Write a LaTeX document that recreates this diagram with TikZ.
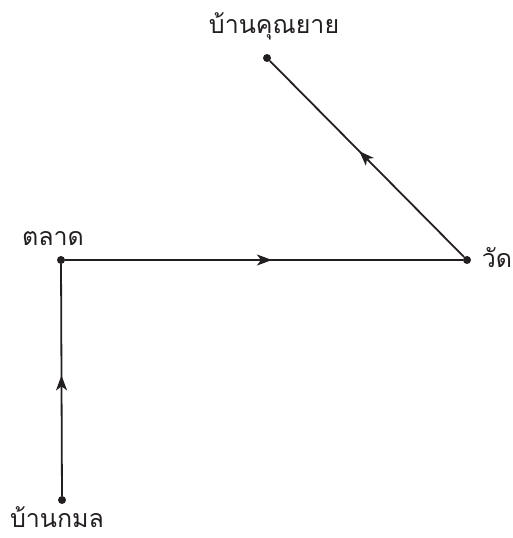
\documentclass[tikz,border=0pt]{standalone}
\usepackage{fontspec}
\newfontfamily\thaifont[Script=Thai]{Loma}
\usetikzlibrary{arrows.meta,decorations.markings}
\definecolor{ink}{HTML}{231F20}
\tikzset{
  dot/.style={circle,fill=ink,inner sep=0pt,minimum size=8pt},
  route/.style={draw=ink,line width=1.8pt,postaction={decorate},
    decoration={markings,mark=at position #1 with {\arrow{Stealth[length=15pt,width=11pt,inset=4pt]}}}},
  lbl/.style={text=ink,font=\thaifont\fontsize{25}{30}\selectfont,inner sep=0pt,anchor=base,text depth=0pt}
}
\begin{document}
\begin{tikzpicture}[x=1pt,y=-1pt]
\useasboundingbox (0,0) rectangle (512,538);
\node[dot] (yai) at (267,58) {};
\node[dot] (talat) at (61,260) {};
\node[dot] (wat) at (467,260) {};
\node[dot] (kamon) at (62,500) {};
\node[lbl] (tyai) at (274,33) {บ้านคุณยาย};
\node[lbl] (ttalat) at (53,245) {ตลาด};
\node[lbl] (twat) at (497,267) {วัด};
\node[lbl] (tkamon) at (57,527) {บ้านกมล};
\draw[route=0.52] (kamon) -- (talat);
\draw[route=0.52] (talat) -- (wat);
\draw[route=0.54] (wat) -- (yai);
\end{tikzpicture}
\end{document}
